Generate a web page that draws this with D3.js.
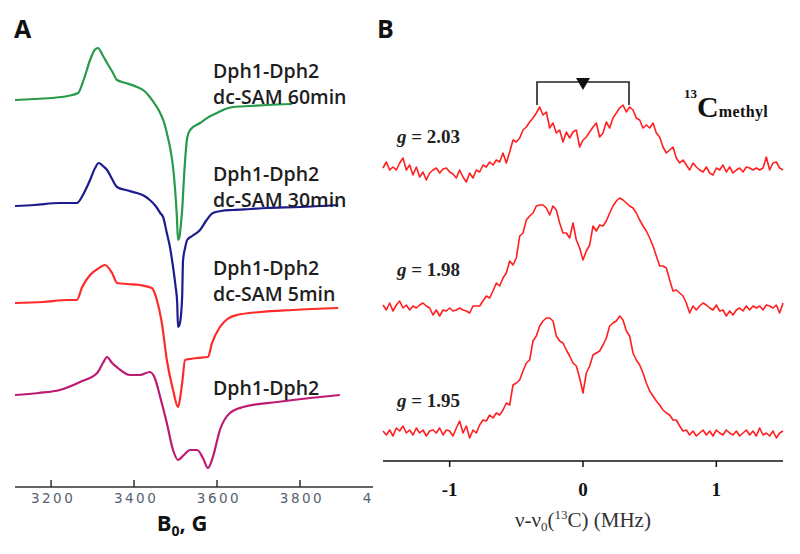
<!DOCTYPE html>
<html>
<head>
<meta charset="utf-8">
<script src="https://cdn.jsdelivr.net/npm/d3@7"></script>
<style>
  body { margin: 0; background: #fff; }
  svg { display: block; }
</style>
</head>
<body>
<div id="chart"></div>
<script>
//------------------------1. DATA------------------------//
// Panel A: EPR spectra, [field (G), signal]
var greenA = [[3113,0],[3160,1],[3200,2],[3240,4],[3265,7],[3280,22],[3294,40],[3305,50],[3313,52],[3324,45],[3335,37],[3348,28],[3359,20],[3380,17],[3407,13],[3425,9],[3438,3],[3450,-4],[3463,-13],[3472,-22],[3479,-33],[3487,-48],[3494,-67],[3499,-90],[3503,-115],[3506,-140],[3509,-138],[3512,-128],[3516,-110],[3520,-80],[3524,-55],[3528,-38],[3535,-30],[3559,-23],[3580,-17],[3600,-13],[3620,-9],[3639,-7],[3680,-6],[3720,-5],[3781,-4]];
var blueA = [[3113,0],[3160,1],[3220,3],[3262,3],[3278,12],[3294,26],[3306,38],[3315,43],[3325,40],[3335,36],[3347,27],[3359,19],[3380,16],[3407,13],[3425,10],[3438,6],[3452,0],[3463,-7],[3470,-11],[3479,-27],[3487,-42],[3494,-61],[3500,-80],[3504,-97],[3506,-121],[3510,-118],[3514,-105],[3516,-90],[3518,-55],[3523,-42],[3528,-34],[3540,-30],[3559,-24],[3575,-14],[3590,-7],[3610,-5],[3639,-4],[3680,-3],[3720,-2],[3800,-1],[3892,1]];
var redA = [[3113,0],[3180,1],[3240,3],[3262,3],[3275,16],[3294,28],[3312,34],[3330,38],[3347,30],[3359,20],[3385,19],[3414,18],[3443,15],[3455,3],[3467,-20],[3479,-57],[3494,-87],[3506,-104],[3511,-95],[3516,-80],[3523,-57],[3535,-56],[3552,-55],[3578,-54],[3588,-40],[3607,-24],[3625,-16],[3648,-12],[3704,-9],[3783,-7],[3892,-5]];
var magentaA = [[3113,0],[3170,2],[3221,5],[3270,13],[3311,22],[3325,32],[3335,38],[3347,32],[3361,27],[3390,20],[3414,20],[3438,23],[3450,17],[3463,-2],[3479,-28],[3494,-55],[3506,-65],[3520,-60],[3535,-55],[3552,-55],[3566,-63],[3578,-73],[3590,-62],[3607,-35],[3631,-18],[3663,-12],[3745,-7],[3824,-3],[3896,0]];

var seriesA = ["Dph1-Dph2 dc-SAM 60min", "Dph1-Dph2 dc-SAM 30min", "Dph1-Dph2 dc-SAM 5min", "Dph1-Dph2"];
var labelsA = [["Dph1-Dph2", "dc-SAM 60min"], ["Dph1-Dph2", "dc-SAM 30min"], ["Dph1-Dph2", "dc-SAM 5min"], ["Dph1-Dph2"]];
var ticksA = [3200, 3400, 3600, 3800, 4000];

// Panel B: ENDOR spectra on a 0.025 MHz grid from -1.5 to 1.5
var freqB = d3.range(121).map(function(i) { return -1.5 + i * 0.025; });
var g203 = [2,8,0,3,0,7,12,0,5,-5,3,-7,-2,-10,-3,0,2,-3,1,2,-2,-4,-8,0,-7,-12,-3,-8,0,-2,5,3,8,5,10,8,17,7,18,30,28,32,40,43,48,52,57,63,55,58,42,47,37,40,28,38,32,38,40,23,30,33,38,43,47,33,37,48,42,52,57,62,65,58,63,60,52,50,42,45,42,47,37,33,23,17,20,23,12,7,10,5,0,7,3,0,-2,3,-3,-5,2,0,5,-2,3,-3,0,2,-2,3,2,0,2,0,2,13,0,7,8,2,0];
var g198 = [3,-2,5,-3,3,7,0,3,-2,2,0,3,5,2,0,-7,-2,-8,-2,-3,0,-3,-2,0,-2,-3,-5,2,2,2,7,12,10,17,25,22,30,35,47,43,50,72,75,88,92,95,102,103,103,100,93,102,98,85,75,75,70,85,68,60,48,57,63,82,77,83,82,87,95,102,107,110,108,105,102,100,95,88,82,77,70,62,52,42,42,40,28,17,18,15,12,5,-5,2,-2,2,5,3,0,-2,3,-3,-2,-8,-3,-7,-2,0,-3,2,-2,2,0,2,-2,3,2,0,3,-5,5];
var g195 = [2,-2,3,-3,5,2,7,0,3,-2,5,0,3,-3,2,3,0,5,-2,3,2,-3,5,12,0,7,-5,3,0,8,13,12,18,15,20,18,23,30,28,48,50,53,62,70,73,92,97,107,112,115,115,112,97,92,90,83,77,70,67,55,40,60,67,78,80,82,88,95,107,110,112,117,113,102,97,80,73,68,60,50,42,37,32,28,23,20,18,13,13,7,2,3,-2,2,-3,0,3,-2,2,-3,3,0,-2,3,0,-2,2,-3,0,3,-2,2,-3,5,-2,0,-3,2,-5,0,2];

var seriesB = [g203, g198, g195];
var labelsB = ["2.03", "1.98", "1.95"];
var ticksB = [-1, 0, 1];
var splitB = [-0.345, 0.345];   // hyperfine doublet marker

//------------------------2. SVG------------------------//
var W = 800, H = 554;
var svg = d3.select("#chart").append("svg")
    .attr("width", W)
    .attr("height", H);

//------------------------3. PANEL A------------------------//
var xA = d3.scaleLinear().domain([3113, 3976]).range([15, 373]);
var yA = d3.scaleLinear().domain([0, 100]).range([0, -100]);
var baseA = [100, 206, 303, 395];
var colorA = ["#279a4b", "#1c1c8e", "#ff2a2a", "#bd1a72"];
var dataA = [greenA, blueA, redA, magentaA];
var axisYA = 487;

var lineA = d3.line()
    .curve(d3.curveMonotoneX)
    .x(function(d) { return xA(d[0]); })
    .y(function(d) { return yA(d[1]); });

var gA = svg.append("g");

gA.selectAll(".traceA")
    .data(dataA)
    .enter()
    .append("path")
    .attr("class", "traceA")
    .attr("transform", function(d, i) { return "translate(0," + baseA[i] + ")"; })
    .attr("d", lineA)
    .attr("fill", "none")
    .attr("stroke", function(d, i) { return colorA[i]; })
    .attr("stroke-width", 2.2)
    .attr("stroke-linejoin", "round");

// labels next to each trace
var labPos = [[213, 78], [213, 181], [213, 275], [213, 395]];
labelsA.forEach(function(lines, i) {
    var t = gA.append("text")
        .attr("x", labPos[i][0])
        .attr("y", labPos[i][1])
        .style("font-family", "'Open Sans', sans-serif")
        .style("font-weight", 600)
        .style("font-size", "19.5px")
        .style("fill", "#1e1e1e");
    lines.forEach(function(s, j) {
        t.append("tspan")
            .attr("x", labPos[i][0])
            .attr("dy", j == 0 ? 0 : 26)
            .text(s);
    });
});

// x axis A (ticks point up, last label cut off by panel edge)
svg.append("clipPath").attr("id", "clipA")
    .append("rect").attr("x", 0).attr("y", 0).attr("width", 373).attr("height", H);

var axA = svg.append("g").attr("transform", "translate(0," + axisYA + ")");
axA.append("line")
    .attr("x1", 15).attr("x2", 373)
    .attr("stroke", "#333").attr("stroke-width", 1.5);
axA.selectAll(".tickA")
    .data(ticksA.filter(function(t) { return xA(t) <= 373; }))
    .enter()
    .append("line")
    .attr("x1", function(d) { return xA(d); })
    .attr("x2", function(d) { return xA(d); })
    .attr("y1", 0).attr("y2", -7)
    .attr("stroke", "#333").attr("stroke-width", 1.5);
axA.append("g").attr("clip-path", "url(#clipA)")
    .selectAll("text")
    .data(ticksA)
    .enter()
    .append("text")
    .attr("x", function(d) { return xA(d) + 2; })
    .attr("y", 16)
    .attr("text-anchor", "middle")
    .style("font-family", "'DejaVu Sans', sans-serif")
    .style("font-size", "13.5px")
    .style("letter-spacing", "2.5px")
    .style("fill", "#56616f")
    .text(function(d) { return d; });

var titleA = svg.append("text")
    .attr("x", 182)
    .attr("y", 531)
    .attr("text-anchor", "middle")
    .style("font-family", "'Open Sans', sans-serif")
    .style("font-weight", 700)
    .style("font-size", "22px")
    .style("fill", "#111");
titleA.append("tspan").text("B");
titleA.append("tspan").attr("dy", 5).style("font-size", "14px").text("0");
titleA.append("tspan").attr("dy", -5).text(", G");

svg.append("text")
    .attr("x", 14).attr("y", 38)
    .style("font-family", "'Open Sans', sans-serif")
    .style("font-weight", 700)
    .style("font-size", "25px")
    .style("fill", "#111")
    .text("A");

//------------------------4. PANEL B------------------------//
var xB = d3.scaleLinear().domain([-1.5, 1.5]).range([383, 783]);
var yB = d3.scaleLinear().domain([0, 100]).range([0, -100]);
var baseB = [170, 308, 433];
var axisYB = 461;

var lineB = d3.line()
    .x(function(d, i) { return xB(freqB[i]); })
    .y(function(d) { return yB(d); });

svg.append("g").selectAll(".traceB")
    .data(seriesB)
    .enter()
    .append("path")
    .attr("class", "traceB")
    .attr("transform", function(d, i) { return "translate(0," + baseB[i] + ")"; })
    .attr("d", lineB)
    .attr("fill", "none")
    .attr("stroke", "#ff1f1f")
    .attr("stroke-width", 1.6)
    .attr("stroke-linejoin", "round");

// g value labels
var gLabY = [143, 276, 407];
labelsB.forEach(function(s, i) {
    var t = svg.append("text")
        .attr("x", 397)
        .attr("y", gLabY[i])
        .style("font-family", "'Liberation Serif', serif")
        .style("font-weight", 700)
        .style("font-size", "19px")
        .style("fill", "#222");
    t.append("tspan").style("font-style", "italic").text("g");
    t.append("tspan").text(" = " + s);
});

// splitting bracket with arrow at the centre
var brY = 82, brDrop = 105;
svg.append("path")
    .attr("d", "M" + xB(splitB[0]) + "," + brDrop + "V" + brY + "H" + xB(splitB[1]) + "V" + brDrop)
    .attr("fill", "none")
    .attr("stroke", "#222")
    .attr("stroke-width", 1.6);
svg.append("path")
    .attr("d", "M" + (xB(0) - 7) + "," + (brY - 4) + "L" + (xB(0) + 7) + "," + (brY - 4) + "L" + xB(0) + "," + (brY + 8) + "Z")
    .attr("fill", "#111");

var nuc = svg.append("text")
    .attr("x", 684).attr("y", 117)
    .style("font-family", "'Liberation Serif', serif")
    .style("font-weight", 700)
    .style("fill", "#111");
nuc.append("tspan").attr("dy", -19).style("font-size", "13px").text("13");
nuc.append("tspan").attr("dy", 19).style("font-size", "30px").text("C");
nuc.append("tspan").style("font-size", "16px").style("letter-spacing", "0.4px").text("methyl");

// x axis B (ticks point down)
var axB = svg.append("g").attr("transform", "translate(0," + axisYB + ")");
axB.append("line")
    .attr("x1", 383).attr("x2", 783)
    .attr("stroke", "#111").attr("stroke-width", 1.6);
axB.selectAll(".tickB")
    .data(ticksB)
    .enter()
    .append("line")
    .attr("x1", function(d) { return xB(d); })
    .attr("x2", function(d) { return xB(d); })
    .attr("y1", 0).attr("y2", 6)
    .attr("stroke", "#111").attr("stroke-width", 1.5);
axB.selectAll(".tlabB")
    .data(ticksB)
    .enter()
    .append("text")
    .attr("x", function(d) { return xB(d); })
    .attr("y", 35)
    .attr("text-anchor", "middle")
    .style("font-family", "'Liberation Serif', serif")
    .style("font-weight", 700)
    .style("font-size", "19px")
    .style("fill", "#111")
    .text(function(d) { return d < 0 ? "-" + Math.abs(d) : d; });

var titleB = svg.append("text")
    .attr("x", 583)
    .attr("y", 527)
    .attr("text-anchor", "middle")
    .style("font-family", "'Liberation Serif', serif")
    .style("font-size", "21px")
    .style("fill", "#333");
titleB.append("tspan").text("\u03bd-\u03bd");
titleB.append("tspan").attr("dy", 4).style("font-size", "13px").text("0");
titleB.append("tspan").attr("dy", -4).text("(");
titleB.append("tspan").attr("dy", -8).style("font-size", "13px").text("13");
titleB.append("tspan").attr("dy", 8).text("C) (MHz)");

svg.append("text")
    .attr("x", 377).attr("y", 38)
    .style("font-family", "'Open Sans', sans-serif")
    .style("font-weight", 700)
    .style("font-size", "25px")
    .style("fill", "#111")
    .text("B");
</script>
</body>
</html>
